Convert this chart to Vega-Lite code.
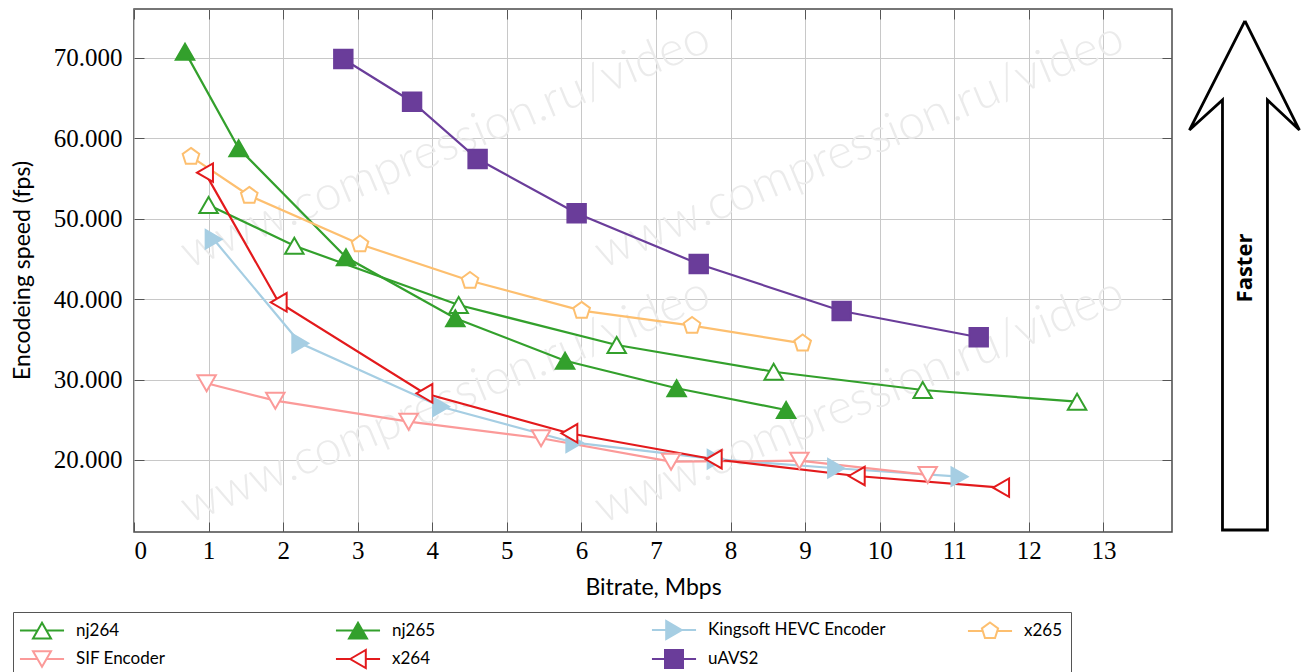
{
  "$schema": "https://vega.github.io/schema/vega-lite/v6.json",
  "width": 1038,
  "height": 523,
  "autosize": {"type": "none"},
  "padding": {"left": 134, "top": 9, "right": 134, "bottom": 140},
  "background": "white",
  "config": {
    "view": {"stroke": "#4a4a4a", "strokeWidth": 1.5},
    "axis": {
      "domain": false,
      "gridColor": "#c8c8c8",
      "gridWidth": 1,
      "gridOpacity": 1,
      "tickColor": "#555555",
      "tickWidth": 1,
      "tickSize": -10,
      "labelFont": "Liberation Serif",
      "labelFontSize": 25,
      "labelColor": "#000000",
      "titleFont": "Lato",
      "titleFontSize": 23,
      "titleFontWeight": "normal",
      "titleColor": "#000000"
    }
  },
  "resolve": {"scale": {"color": "independent", "fill": "independent", "shape": "independent"}},
  "datasets": {
    "speed": [
      {"enc": "nj264", "br": 1.0, "fps": 51.69},
      {"enc": "nj264", "br": 2.15, "fps": 46.63},
      {"enc": "nj264", "br": 4.354, "fps": 39.26},
      {"enc": "nj264", "br": 6.473, "fps": 34.29},
      {"enc": "nj264", "br": 8.578, "fps": 30.97},
      {"enc": "nj264", "br": 10.577, "fps": 28.7},
      {"enc": "nj264", "br": 12.647, "fps": 27.25},
      {"enc": "nj265", "br": 0.684, "fps": 70.75},
      {"enc": "nj265", "br": 1.403, "fps": 58.74},
      {"enc": "nj265", "br": 2.843, "fps": 45.19},
      {"enc": "nj265", "br": 4.309, "fps": 37.61},
      {"enc": "nj265", "br": 5.781, "fps": 32.34},
      {"enc": "nj265", "br": 7.277, "fps": 28.91},
      {"enc": "nj265", "br": 8.745, "fps": 26.21},
      {"enc": "Kingsoft HEVC Encoder", "br": 1.068, "fps": 47.43},
      {"enc": "Kingsoft HEVC Encoder", "br": 2.23, "fps": 34.5},
      {"enc": "Kingsoft HEVC Encoder", "br": 4.117, "fps": 26.62},
      {"enc": "Kingsoft HEVC Encoder", "br": 5.905, "fps": 22.15},
      {"enc": "Kingsoft HEVC Encoder", "br": 7.8, "fps": 20.1},
      {"enc": "Kingsoft HEVC Encoder", "br": 9.415, "fps": 18.97},
      {"enc": "Kingsoft HEVC Encoder", "br": 11.07, "fps": 17.93},
      {"enc": "x265", "br": 0.764, "fps": 57.7},
      {"enc": "x265", "br": 1.546, "fps": 52.85},
      {"enc": "x265", "br": 3.031, "fps": 46.81},
      {"enc": "x265", "br": 4.506, "fps": 42.28},
      {"enc": "x265", "br": 6.003, "fps": 38.56},
      {"enc": "x265", "br": 7.484, "fps": 36.69},
      {"enc": "x265", "br": 8.967, "fps": 34.5},
      {"enc": "SIF Encoder", "br": 0.974, "fps": 29.53},
      {"enc": "SIF Encoder", "br": 1.895, "fps": 27.37},
      {"enc": "SIF Encoder", "br": 3.683, "fps": 24.76},
      {"enc": "SIF Encoder", "br": 5.459, "fps": 22.7},
      {"enc": "SIF Encoder", "br": 7.202, "fps": 19.79},
      {"enc": "SIF Encoder", "br": 8.923, "fps": 19.91},
      {"enc": "SIF Encoder", "br": 10.644, "fps": 18.14},
      {"enc": "x264", "br": 0.952, "fps": 55.71},
      {"enc": "x264", "br": 1.94, "fps": 39.6},
      {"enc": "x264", "br": 3.894, "fps": 28.29},
      {"enc": "x264", "br": 5.838, "fps": 23.32},
      {"enc": "x264", "br": 7.774, "fps": 20.09},
      {"enc": "x264", "br": 9.692, "fps": 18.01},
      {"enc": "x264", "br": 11.628, "fps": 16.56},
      {"enc": "uAVS2", "br": 2.807, "fps": 69.84},
      {"enc": "uAVS2", "br": 3.729, "fps": 64.53},
      {"enc": "uAVS2", "br": 4.608, "fps": 57.41},
      {"enc": "uAVS2", "br": 5.936, "fps": 50.66},
      {"enc": "uAVS2", "br": 7.573, "fps": 44.36},
      {"enc": "uAVS2", "br": 9.49, "fps": 38.52},
      {"enc": "uAVS2", "br": 11.328, "fps": 35.25}
    ],
    "watermark": [
      {"label": "www.compression.ru/video", "br": 4.18, "fps": 59.0},
      {"label": "www.compression.ru/video", "br": 9.73, "fps": 59.0},
      {"label": "www.compression.ru/video", "br": 4.18, "fps": 27.3},
      {"label": "www.compression.ru/video", "br": 9.73, "fps": 27.3}
    ],
    "arrow": [
      {"i": 0, "br": 14.898, "fps": 74.56},
      {"i": 1, "br": 15.629, "fps": 61.01},
      {"i": 2, "br": 15.2, "fps": 64.74},
      {"i": 3, "br": 15.2, "fps": 11.3},
      {"i": 4, "br": 14.597, "fps": 11.3},
      {"i": 5, "br": 14.597, "fps": 64.74},
      {"i": 6, "br": 14.154, "fps": 61.01},
      {"i": 7, "br": 14.898, "fps": 74.56}
    ],
    "arrowLabel": [
      {"label": "Faster", "br": 14.9, "fps": 43.86}
    ]
  },
  "layer": [
    {
      "data": {"name": "watermark"},
      "mark": {"type": "text", "font": "Lato", "fontSize": 48, "fontWeight": 300, "color": "#ebebeb", "angle": 337.3, "align": "center", "baseline": "middle", "clip": false},
      "encoding": {
        "x": {"field": "br", "type": "quantitative", "scale": {"domain": [0, 13.92], "nice": false, "zero": false},
          "axis": {"orient": "bottom", "values": [0,1,2,3,4,5,6,7,8,9,10,11,12,13], "format": "d", "grid": true, "title": "Bitrate, Mbps", "titleBaseline": "alphabetic", "titleY": 62, "labelPadding": 16}},
        "y": {"field": "fps", "type": "quantitative", "scale": {"domain": [11.05, 76.05], "nice": false, "zero": false},
          "axis": {"orient": "left", "values": [20,30,40,50,60,70], "format": ".3f", "grid": true, "title": "Encodeing speed (fps)", "titleBaseline": "alphabetic", "titleAngle": -90, "titleX": -105, "titleY": 261, "titleAlign": "center", "labelPadding": 22}},
        "text": {"field": "label"}
      }
    },
    {
      "data": {"name": "speed"},
      "mark": {"type": "point", "opacity": 0},
      "encoding": {
        "x": {"field": "br", "type": "quantitative", "axis": {"orient": "top", "values": [0,1,2,3,4,5,6,7,8,9,10,11,12,13], "labels": false, "grid": false, "title": null}},
        "y": {"field": "fps", "type": "quantitative", "axis": {"orient": "right", "values": [20,30,40,50,60,70], "labels": false, "grid": false, "title": null}}
      }
    },
    {
      "data": {"name": "speed"},
      "mark": {"type": "line", "strokeWidth": 2.2, "clip": true},
      "encoding": {
        "x": {"field": "br", "type": "quantitative", "axis": null},
        "y": {"field": "fps", "type": "quantitative", "axis": null},
        "detail": {"field": "enc"},
        "color": {"field": "enc", "type": "nominal", "legend": null,
          "scale": {"domain": ["nj264", "nj265", "Kingsoft HEVC Encoder", "x265", "SIF Encoder", "x264", "uAVS2"],
                    "range": ["#33a02c", "#33a02c", "#a6cee3", "#fdbf6f", "#fb9a99", "#e31a1c", "#6a3d9a"]}}
      }
    },
    {
      "data": {"name": "speed"},
      "mark": {"type": "point", "filled": false, "opacity": 1, "size": 340, "strokeWidth": 2},
      "encoding": {
        "x": {"field": "br", "type": "quantitative", "axis": null},
        "y": {"field": "fps", "type": "quantitative", "axis": null},
        "color": {"field": "enc", "type": "nominal", "legend": null,
          "scale": {"domain": ["nj264", "nj265", "Kingsoft HEVC Encoder", "x265", "SIF Encoder", "x264", "uAVS2"],
                    "range": ["#33a02c", "#33a02c", "#a6cee3", "#fdbf6f", "#fb9a99", "#e31a1c", "#6a3d9a"]}},
        "fill": {"field": "enc", "type": "nominal", "legend": null,
          "scale": {"domain": ["nj264", "nj265", "Kingsoft HEVC Encoder", "x265", "SIF Encoder", "x264", "uAVS2"],
                    "range": ["#ffffff", "#33a02c", "#a6cee3", "#ffffff", "#ffffff", "#ffffff", "#6a3d9a"]}},
        "shape": {"field": "enc", "type": "nominal", "legend": null,
          "scale": {"domain": ["nj264", "nj265", "Kingsoft HEVC Encoder", "x265", "SIF Encoder", "x264", "uAVS2"],
                    "range": ["triangle-up", "triangle-up", "triangle-right", "M0,-0.95L0.9,-0.29L0.56,0.77L-0.56,0.77L-0.9,-0.29Z", "triangle-down", "triangle-left", "square"]}}
      }
    },
    {
      "data": {"name": "speed"},
      "transform": [{"filter": "false"}],
      "mark": {"type": "point", "filled": false, "opacity": 1, "strokeWidth": 2},
      "encoding": {
        "x": {"field": "br", "type": "quantitative", "axis": null},
        "y": {"field": "fps", "type": "quantitative", "axis": null},
        "color": {"field": "enc", "type": "nominal",
          "scale": {"domain": ["nj264", "nj265", "Kingsoft HEVC Encoder", "x265", "SIF Encoder", "x264", "uAVS2"],
                    "range": ["#33a02c", "#33a02c", "#a6cee3", "#fdbf6f", "#fb9a99", "#e31a1c", "#6a3d9a"]}},
        "fill": {"field": "enc", "type": "nominal",
          "scale": {"domain": ["nj264", "nj265", "Kingsoft HEVC Encoder", "x265", "SIF Encoder", "x264", "uAVS2"],
                    "range": ["#ffffff", "#33a02c", "#a6cee3", "#ffffff", "#ffffff", "#ffffff", "#6a3d9a"]}},
        "shape": {"field": "enc", "type": "nominal",
          "scale": {"domain": ["nj264", "nj265", "Kingsoft HEVC Encoder", "x265", "SIF Encoder", "x264", "uAVS2"],
                    "range": [
                      "M-2.45,0L-0.5,0M0.5,0L2.45,0M0,-0.866L1,0.866L-1,0.866Z",
                      "M-2.45,0L-0.5,0M0.5,0L2.45,0M0,-0.866L1,0.866L-1,0.866Z",
                      "M-2.45,0L-0.866,0M0.866,0L2.45,0M0.866,0L-0.866,-1L-0.866,1Z",
                      "M-2.45,0L-0.85,0M0.85,0L2.45,0M0,-0.95L0.9,-0.29L0.56,0.77L-0.56,0.77L-0.9,-0.29Z",
                      "M-2.45,0L-0.5,0M0.5,0L2.45,0M0,0.866L-1,-0.866L1,-0.866Z",
                      "M-2.45,0L-0.866,0M0.866,0L2.45,0M-0.866,0L0.866,-1L0.866,1Z",
                      "M-2.45,0L-1,0M1,0L2.45,0M-1,-1L1,-1L1,1L-1,1Z"]},
          "legend": {
            "title": null,
            "orient": "none",
            "legendX": -121,
            "legendY": 603,
            "direction": "horizontal",
            "columns": 4,
            "gridAlign": "all",
            "padding": 8,
            "strokeColor": "#555555",
            "columnPadding": 77,
            "rowPadding": 3,
            "symbolSize": 324,
            "symbolStrokeWidth": 2,
            "symbolOffset": 11,
            "labelOffset": 24,
            "labelFont": "Lato",
            "labelFontSize": 17,
            "labelColor": "#000000",
            "labelLimit": 400
          }
        }
      }
    },
    {
      "data": {"name": "arrow"},
      "mark": {"type": "line", "stroke": "#000000", "strokeWidth": 2.8, "strokeJoin": "miter", "clip": false},
      "encoding": {
        "x": {"field": "br", "type": "quantitative", "axis": null},
        "y": {"field": "fps", "type": "quantitative", "axis": null},
        "order": {"field": "i", "type": "quantitative"}
      }
    },
    {
      "data": {"name": "arrowLabel"},
      "mark": {"type": "text", "font": "Open Sans", "fontSize": 22, "fontWeight": "bold", "color": "#000000", "angle": 270, "align": "center", "baseline": "middle", "clip": false},
      "encoding": {
        "x": {"field": "br", "type": "quantitative", "axis": null},
        "y": {"field": "fps", "type": "quantitative", "axis": null},
        "text": {"field": "label"}
      }
    }
  ]
}
